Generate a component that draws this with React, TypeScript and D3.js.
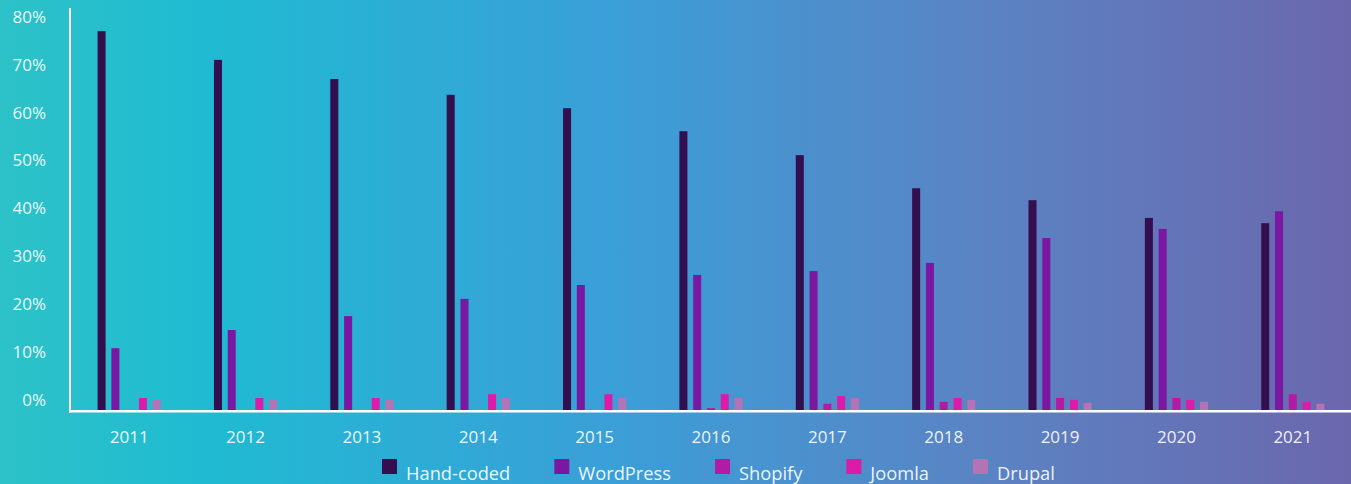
// @ts-nocheck
import * as d3 from "d3";
import React, { useRef, useEffect } from "react";

const years = ["2011", "2012", "2013", "2014", "2015", "2016", "2017", "2018", "2019", "2020", "2021"];
const seriesNames = ["Hand-coded", "WordPress", "Shopify", "Joomla", "Drupal"];
const seriesColors = ["#330f50", "#7a18a2", "#b41ba5", "#dc1ca8", "#b373b5"];

// share of websites, %
const handCoded = [79.1, 73.1, 69.1, 65.8, 63.0, 58.2, 53.2, 46.3, 43.8, 40.1, 39.0];
const wordPress = [12.9, 16.7, 19.6, 23.2, 26.1, 28.2, 29.0, 30.7, 35.9, 37.8, 41.5];
const shopify = [0, 0, 0, 0, 0, 0.4, 1.3, 1.7, 2.5, 2.5, 3.3];
const joomla = [2.5, 2.5, 2.5, 3.3, 3.3, 3.3, 2.9, 2.5, 2.1, 2.1, 1.7];
const drupal = [2.1, 2.1, 2.1, 2.5, 2.5, 2.5, 2.5, 2.1, 1.5, 1.7, 1.3];

const yTicks = [0, 10, 20, 30, 40, 50, 60, 70, 80];

export default function App() {
  const svgRef = useRef<SVGSVGElement | null>(null);

  useEffect(() => {
    document.body.style.margin = "0";
    const width = 1351;
    const height = 484;
    const font = "'Open Sans', 'Noto Sans', sans-serif";
    const values = [handCoded, wordPress, shopify, joomla, drupal];

    const svg = d3.select(svgRef.current).attr("width", width).attr("height", height);
    svg.selectAll("*").remove();

    const grad = svg.append("defs").append("linearGradient").attr("id", "bg").attr("x1", "0%").attr("x2", "100%");
    [
      ["0%", "#2dc2c8"],
      ["15%", "#1fbbd2"],
      ["45%", "#3a9fd8"],
      ["72%", "#5a84c4"],
      ["100%", "#6b67ad"],
    ].forEach(([o, c]) => grad.append("stop").attr("offset", o).attr("stop-color", c));
    svg.append("rect").attr("width", width).attr("height", height).attr("fill", "url(#bg)");

    const baseY = 410;
    const y = d3.scaleLinear().domain([0, 80]).range([baseY, baseY - 383.2]);
    const x0 = d3.scaleBand().domain(years).range([70, 1352]).paddingInner(0.457).paddingOuter(0.237);
    const x1 = d3.scaleBand().domain(seriesNames).range([0, x0.bandwidth()]).paddingInner(0.418);

    const groups = svg.selectAll("g.year").data(years).join("g")
      .attr("class", "year")
      .attr("transform", d => `translate(${x0(d)},0)`);

    groups.selectAll("rect")
      .data((d, i) => seriesNames.map((s, k) => ({ s, k, v: values[k][i] })).filter(e => e.v > 0))
      .join("rect")
      .attr("x", e => x1(e.s))
      .attr("width", x1.bandwidth())
      .attr("y", e => y(e.v))
      .attr("height", e => baseY - y(e.v))
      .attr("fill", e => seriesColors[e.k]);

    // axes
    svg.append("line").attr("x1", 70).attr("x2", 70).attr("y1", 8).attr("y2", 412.5)
      .attr("stroke", "#fff").attr("stroke-width", 2);
    svg.append("line").attr("x1", 69).attr("x2", width).attr("y1", 411.2).attr("y2", 411.2)
      .attr("stroke", "#fff").attr("stroke-width", 2.5);

    svg.append("g").selectAll("text").data(yTicks).join("text")
      .attr("x", 46)
      .attr("y", d => y(d) - 10)
      .attr("dy", "0.35em")
      .attr("text-anchor", "end")
      .attr("font-family", font)
      .attr("font-size", 17)
      .attr("fill", "#fff")
      .attr("fill-opacity", 0.92)
      .text(d => `${d}%`);

    svg.append("g").selectAll("text").data(years).join("text")
      .attr("x", d => x0(d) + x0.bandwidth() / 2)
      .attr("y", 443)
      .attr("text-anchor", "middle")
      .attr("font-family", font)
      .attr("font-size", 17)
      .attr("fill", "#fff")
      .attr("fill-opacity", 0.92)
      .text(d => d);

    // legend (sits at the bottom edge, as in the source)
    const legend = svg.append("g");
    const items = legend.selectAll("g").data(seriesNames).join("g");
    items.append("rect").attr("width", 15).attr("height", 15).attr("y", 459)
      .attr("fill", (d, i) => seriesColors[i]);
    items.append("text").attr("x", 24).attr("y", 480)
      .attr("font-family", font).attr("font-size", 18.3).attr("fill", "#fff").attr("fill-opacity", 0.92)
      .text(d => d);
    let cx = 0;
    const widths = [];
    items.each(function () {
      const w = 24 + d3.select(this).select("text").node().getComputedTextLength();
      widths.push(w);
    });
    const gap = 44;
    items.attr("transform", (d, i) => {
      const t = `translate(${382 + cx},0)`;
      cx += widths[i] + gap;
      return t;
    });
  }, []);

  return <svg ref={svgRef} style={{ display: "block" }} />;
}
